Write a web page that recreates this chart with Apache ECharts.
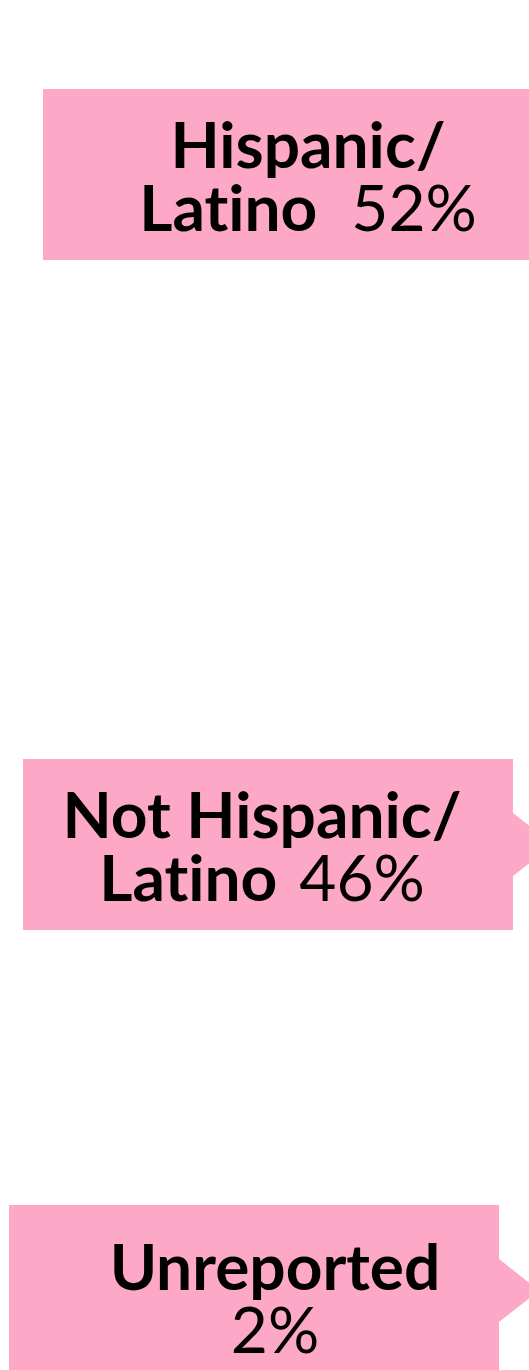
<!DOCTYPE html>
<html>
<head>
<meta charset="utf-8">
<script src="https://cdn.jsdelivr.net/npm/echarts@6/dist/echarts.min.js"></script>
<style>
html,body{margin:0;padding:0;background:#ffffff;}
#chart{width:529px;height:1370px;}
</style>
</head>
<body>
<div id="chart"></div>
<script>
// Data
const categories = ['Hispanic/\nLatino', 'Not Hispanic/\nLatino', 'Unreported'];
const values = [52, 46, 2];
const valueOnNewLine = [false, false, true];

// Layout of callouts (presentation only)
const calloutLayout = [
  { left: 43, top: 89, textX: 308, textY: 179, gap: 34 },
  { left: 23, top: 759, textX: 262, textY: 849, gap: 22 },
  { left: 9, top: 1205, textX: 275, textY: 1301, gap: 0 }
];
const BOX_W = 490, BOX_H = 171, ARROW_HALF = 31.5, ARROW_LEN = 40;
const PINK = '#fda8c6';
const FS = 64, LH = 62.6;

// break the "ti" ligature so glyphs render separately
function noLig(s) { return s.replace(/ti/g, 't\u200Ci').replace(/fi/g, 'f\u200Ci'); }

function labelText(i) {
  const lines = categories[i].split('\n').map(l => '{b|' + noLig(l) + '}');
  const v = '{v|' + values[i] + '%}';
  if (valueOnNewLine[i]) return lines.join('\n') + '\n' + v;
  lines[lines.length - 1] += v;
  return lines.join('\n');
}

const chart = echarts.init(document.getElementById('chart'), null, { renderer: 'canvas' });
chart.setOption({
  backgroundColor: '#ffffff',
  animation: false,
  series: [{
    type: 'custom',
    coordinateSystem: 'none',
    data: values.map((v, i) => [i, v]),
    renderItem: function (params, api) {
      const i = params.dataIndex;
      const L = calloutLayout[i];
      const x0 = L.left, y0 = L.top, x1 = x0 + BOX_W, y1 = y0 + BOX_H;
      const cy = y0 + BOX_H / 2;
      return {
        type: 'group',
        children: [
          {
            type: 'polygon',
            shape: {
              points: [
                [x0, y0], [x1, y0], [x1, cy - ARROW_HALF], [x1 + ARROW_LEN, cy],
                [x1, cy + ARROW_HALF], [x1, y1], [x0, y1]
              ]
            },
            style: { fill: PINK }
          },
          {
            type: 'text',
            x: L.textX,
            y: L.textY,
            style: {
              text: labelText(i),
              align: 'center',
              verticalAlign: 'middle',
              fill: '#000000',
              fontFamily: 'Lato',
              fontSize: FS,
              lineHeight: LH,
              rich: {
                b: { fontFamily: 'Lato', fontWeight: 'bold', fontSize: FS, lineHeight: LH, fill: '#000000' },
                v: { fontFamily: 'Lato', fontWeight: 'normal', fontSize: FS, lineHeight: LH, fill: '#000000', padding: [0, 0, 0, L.gap] }
              }
            }
          }
        ]
      };
    }
  }]
});
</script>
</body>
</html>
